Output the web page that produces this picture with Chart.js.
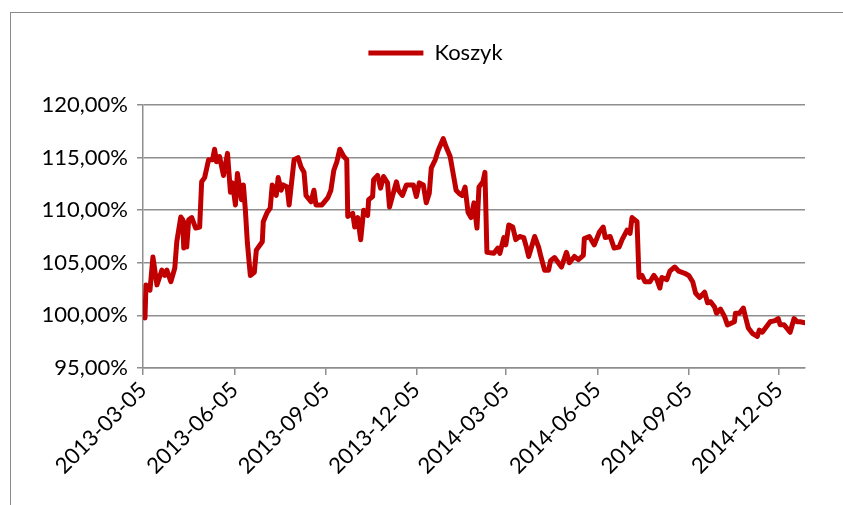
<!DOCTYPE html>
<html>
<head>
<meta charset="utf-8">
<script src="https://cdn.jsdelivr.net/npm/chart.js@4/dist/chart.umd.min.js"></script>
<style>
    body { margin: 0; background: #fff; }
    #wrap { position: relative; width: 843px; height: 505px; }
    #frame { position: absolute; left: 10px; top: 12px; right: 0; bottom: 0;
             border-left: 1px solid #8a8a8a; border-top: 1px solid #8a8a8a; pointer-events: none; }
</style>
</head>
<body>
<div id="wrap">
    <canvas id="chart" width="843" height="505"></canvas>
    <div id="frame"></div>
</div>
<script>
// Données (valeur du koszyk en %)
const startDate = '2013-03-05';
const dates = [
    '2013-03-07','2013-03-08','2013-03-12','2013-03-15','2013-03-19','2013-03-24','2013-03-27','2013-03-29',
    '2013-04-02','2013-04-06','2013-04-08','2013-04-12','2013-04-14','2013-04-15','2013-04-17','2013-04-18',
    '2013-04-20','2013-04-23','2013-04-27','2013-05-01','2013-05-03','2013-05-06','2013-05-10','2013-05-14',
    '2013-05-16','2013-05-18','2013-05-21','2013-05-25','2013-05-29','2013-06-01','2013-06-03','2013-06-06',
    '2013-06-08','2013-06-12','2013-06-14','2013-06-16','2013-06-18','2013-06-21','2013-06-25','2013-06-27',
    '2013-07-03','2013-07-04','2013-07-08','2013-07-11','2013-07-13','2013-07-15','2013-07-17','2013-07-19',
    '2013-07-22','2013-07-24','2013-07-28','2013-07-30','2013-08-04','2013-08-08','2013-08-11','2013-08-14',
    '2013-08-16','2013-08-21','2013-08-24','2013-08-26','2013-09-01','2013-09-07','2013-09-10','2013-09-13',
    '2013-09-16','2013-09-19','2013-09-23','2013-09-26','2013-09-27','2013-10-02','2013-10-04','2013-10-07',
    '2013-10-10','2013-10-13','2013-10-17','2013-10-18','2013-10-22','2013-10-23','2013-10-27','2013-10-30',
    '2013-11-02','2013-11-06','2013-11-08','2013-11-12','2013-11-15','2013-11-17','2013-11-21','2013-11-25',
    '2013-12-02','2013-12-05','2013-12-08','2013-12-12','2013-12-15','2013-12-18','2013-12-20','2013-12-24',
    '2013-12-27','2014-01-01','2014-01-04','2014-01-08','2014-01-11','2014-01-14','2014-01-17','2014-01-20',
    '2014-01-23','2014-01-26','2014-01-29','2014-02-01','2014-02-04','2014-02-06','2014-02-10','2014-02-12',
    '2014-02-14','2014-02-21','2014-02-25','2014-02-27','2014-03-03','2014-03-05','2014-03-08','2014-03-12',
    '2014-03-15','2014-03-19','2014-03-23','2014-03-26','2014-03-28','2014-04-03','2014-04-07','2014-04-09',
    '2014-04-13','2014-04-17','2014-04-19','2014-04-23','2014-04-30','2014-05-05','2014-05-08','2014-05-13',
    '2014-05-17','2014-05-22','2014-05-23','2014-05-28','2014-06-02','2014-06-07','2014-06-11','2014-06-13',
    '2014-06-18','2014-06-22','2014-06-27','2014-06-30','2014-07-05','2014-07-08','2014-07-10','2014-07-15',
    '2014-07-17','2014-07-20','2014-07-23','2014-07-28','2014-08-01','2014-08-04','2014-08-07','2014-08-09',
    '2014-08-14','2014-08-17','2014-08-22','2014-08-26','2014-09-01','2014-09-05','2014-09-09','2014-09-12',
    '2014-09-16','2014-09-21','2014-09-24','2014-09-27','2014-10-01','2014-10-03','2014-10-07','2014-10-11',
    '2014-10-14','2014-10-21','2014-10-22','2014-10-26','2014-10-30','2014-11-01','2014-11-04','2014-11-08',
    '2014-11-13','2014-11-15','2014-11-18','2014-11-22','2014-11-26','2014-12-01','2014-12-04','2014-12-06',
    '2014-12-10','2014-12-16','2014-12-20','2014-12-23','2014-12-26','2014-12-31'
];
const koszyk = [
    99.75, 102.9, 102.4, 105.55, 102.9, 104.3, 103.8, 104.3,
    103.2, 104.5, 107.0, 109.35, 109.1, 106.4, 108.8, 106.5,
    109.1, 109.3, 108.3, 108.4, 112.7, 113.1, 114.8, 114.8,
    115.8, 114.6, 115.1, 113.3, 115.4, 111.7, 112.6, 110.5,
    113.5, 111.0, 112.4, 110.0, 106.9, 103.8, 104.1, 106.2,
    107.0, 108.9, 109.8, 110.2, 112.4, 111.9, 111.4, 113.1,
    111.9, 112.4, 112.2, 110.5, 114.8, 115.0, 114.1, 113.6,
    111.4, 110.8, 111.9, 110.5, 110.5, 111.2, 111.9, 113.8,
    114.6, 115.8, 115.1, 114.8, 109.4, 109.7, 108.4, 109.3,
    107.2, 110.0, 109.5, 111.0, 111.3, 112.9, 113.3, 112.1,
    113.2, 112.6, 110.3, 111.7, 112.7, 111.9, 111.4, 112.4,
    112.4, 111.3, 112.6, 112.4, 110.7, 111.6, 114.0, 114.8,
    115.7, 116.8, 116.0, 115.1, 113.5, 111.9, 111.6, 111.4,
    112.2, 109.8, 109.3, 110.7, 108.3, 112.2, 112.7, 113.6,
    106.0, 105.9, 106.4, 105.9, 107.4, 106.7, 108.6, 108.4,
    107.2, 107.5, 107.4, 106.4, 105.6, 107.5, 106.5, 105.7,
    104.3, 104.3, 105.2, 105.5, 104.6, 106.0, 105.0, 105.6,
    105.3, 105.7, 107.3, 107.5, 106.7, 107.9, 108.4, 107.4,
    107.5, 106.4, 106.5, 107.2, 108.1, 107.8, 109.3, 108.9,
    103.6, 103.8, 103.2, 103.2, 103.8, 103.4, 102.6, 103.6,
    103.4, 104.2, 104.6, 104.2, 104.0, 103.8, 103.2, 102.1,
    101.7, 102.2, 101.2, 101.3, 100.8, 100.2, 100.6, 99.9,
    99.1, 99.4, 100.2, 100.2, 100.7, 99.9, 98.8, 98.3,
    98.0, 98.6, 98.4, 98.9, 99.4, 99.5, 99.7, 99.1,
    99.1, 98.4, 99.7, 99.4, 99.4, 99.3
];
const tickLabels = ['2013-03-05','2013-06-05','2013-09-05','2013-12-05','2014-03-05','2014-06-05','2014-09-05','2014-12-05'];

const FONT = 'Lato, "Noto Sans", sans-serif';
const GRID = '#8e8e8e';

// nombre de jours depuis le début
function dayOf(s) {
    const [y, m, d] = s.split('-').map(Number);
    const [y0, m0, d0] = startDate.split('-').map(Number);
    return Math.round((Date.UTC(y, m - 1, d) - Date.UTC(y0, m0 - 1, d0)) / 86400000);
}

const points = dates.map((d, i) => ({ x: dayOf(d), y: koszyk[i] }));
const tickDays = tickLabels.map(dayOf);

// Légende : un peu plus d'espace en dessous et décalée vers la droite
const legendTweak = {
    id: 'legendTweak',
    beforeLayout(chart) {
        const lg = chart.legend;
        if (lg && !lg._patched) {
            const fit = lg.fit.bind(lg);
            lg.fit = function() {
                fit();
                this.height += 31;
            };
            lg._patched = true;
        }
    },
    afterLayout(chart) {
        if (chart.legend) {
            chart.legend.left += 18;
            chart.legend.right += 18;
        }
    }
};

new Chart(document.getElementById('chart'), {
    type: 'line',
    data: {
        datasets: [{
            label: 'Koszyk',
            data: points,
            borderColor: '#C00000',
            backgroundColor: '#C00000',
            borderWidth: 5,
            borderCapStyle: 'round',
            borderJoinStyle: 'round',
            pointRadius: 0,
            pointStyle: 'line',
            tension: 0
        }]
    },
    plugins: [legendTweak],
    options: {
        responsive: false,
        animation: false,
        layout: { padding: { left: 30, right: 38, top: 11, bottom: 0 } },
        plugins: {
            legend: {
                position: 'top',
                labels: {
                    usePointStyle: true,
                    pointStyleWidth: 55,
                    padding: 31,
                    color: '#000',
                    font: { family: FONT, size: 22 }
                }
            },
            tooltip: { enabled: false }
        },
        scales: {
            x: {
                type: 'linear',
                min: 0,
                max: dayOf(dates[dates.length - 1]),
                afterBuildTicks: scale => {
                    scale.ticks = tickDays.map(v => ({ value: v }));
                },
                afterFit: scale => {
                    scale.height = 137;
                    scale.paddingLeft = 0;
                    scale.paddingRight = 0;
                },
                grid: { drawOnChartArea: false, drawTicks: true, tickLength: 7, color: GRID, lineWidth: 1.5 },
                border: { color: GRID, width: 1.5 },
                ticks: {
                    autoSkip: false,
                    minRotation: 45,
                    maxRotation: 45,
                    padding: 2,
                    color: '#000',
                    font: { family: FONT, size: 22 },
                    callback: value => {
                        const i = tickDays.indexOf(value);
                        return i >= 0 ? tickLabels[i] : '';
                    }
                }
            },
            y: {
                min: 95,
                max: 120,
                afterFit: scale => { scale.width = 113; },
                grid: { color: GRID, lineWidth: 1.5, tickLength: 6 },
                border: { color: GRID, width: 1.5 },
                ticks: {
                    stepSize: 5,
                    padding: 9,
                    color: '#000',
                    font: { family: FONT, size: 22 },
                    callback: v => v.toFixed(2).replace('.', ',') + '%'
                }
            }
        }
    }
});
</script>
</body>
</html>
